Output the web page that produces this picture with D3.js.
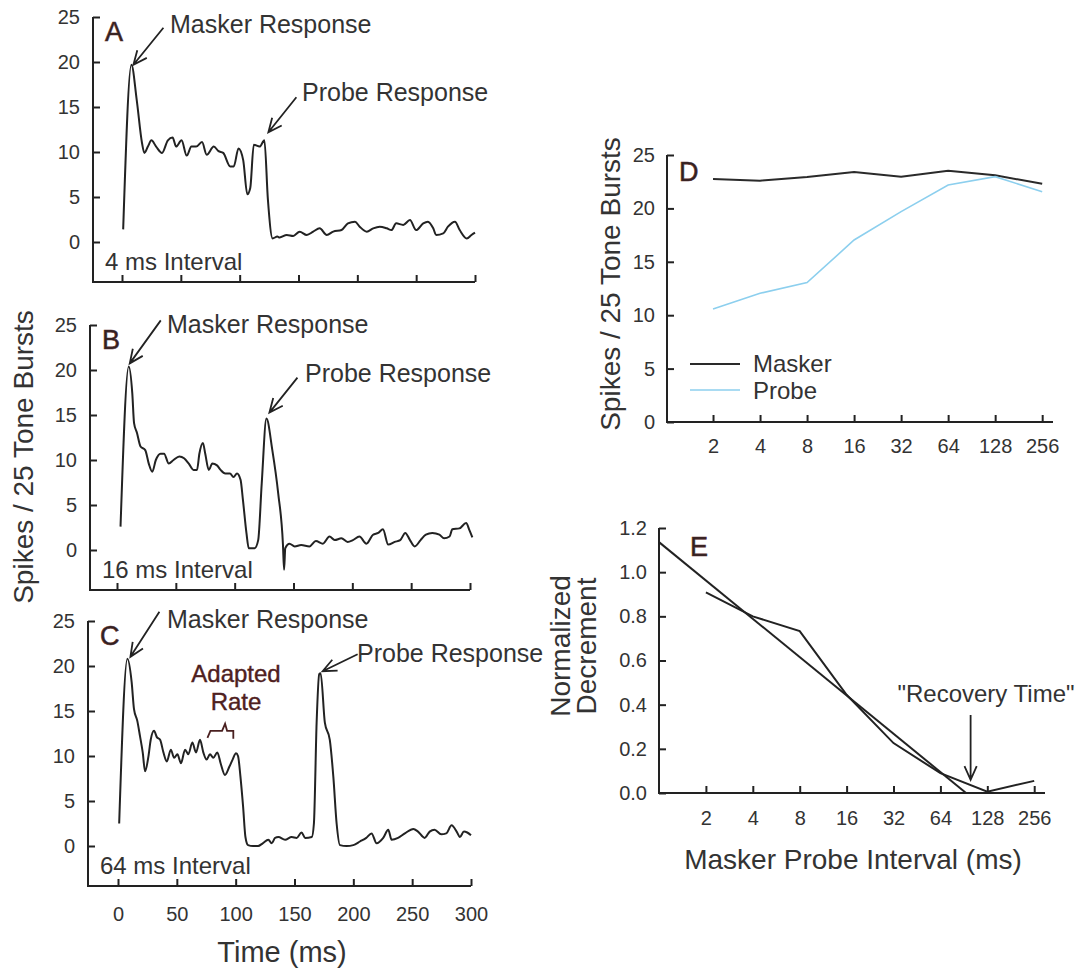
<!DOCTYPE html>
<html><head><meta charset="utf-8">
<script src="https://cdn.jsdelivr.net/npm/d3@7"></script>
<style>
body{margin:0;background:#fff}
text{font-family:"Liberation Sans",Arial,sans-serif;fill:#333}
</style>
</head><body>
<svg id="c" width="1083" height="968"></svg>
<script>
// ---------- data ----------
const timeTicks = [0, 50, 100, 150, 200, 250, 300];
const spikeTicks = [0, 5, 10, 15, 20, 25];
const intervalTicks = [2, 4, 8, 16, 32, 64, 128, 256];
const decrementTicks = [0, 0.2, 0.4, 0.6, 0.8, 1.0, 1.2];

const timeA = [1,8,12.5,17,19,22,25,29,34,39,43,46,50.6,55,59,63,68,72,78,82,86,92,95,99,103,106.5,109,112,117,121,124,128,132,134,140,145.5,151,157,162.5,168,174,179.5,186.6,192,198,202,208,213.5,219,225,229,233,239,244.7,250,256,260,264.5,267,273,277,283,287,293,297,300];
const spikesA = [1.4,19.7,15.8,11,9.9,10.6,11.3,10.6,9.9,11.3,11.6,10.6,11.3,9.6,10.6,10.6,11.1,9.7,10.6,10.1,9.9,8.4,8.4,10.4,9.1,5.3,6,10.8,10.6,11.3,4.7,0.4,0.6,0.5,0.78,0.67,1.15,0.78,1.15,1.52,0.78,1.15,1.33,2.07,2.26,1.7,1.15,1.52,1.7,1.52,1.33,2.07,1.9,2.44,1.33,2.07,2.26,1.52,0.78,0.96,1.7,2.26,1.33,0.4,0.78,1.04];

const timeB = [3,10,13,14.5,17,20,24,27,30,33,37,40,44,48,53,57,61,65,68,70,73,75,78,81,85,88,92,96,99,102,105,107,110,112,117,120,123,127,132,137,141,142,143,146.6,151,156.5,163.6,169,175,180.6,185,190.7,196,200.5,206,212,217.6,222,226,230.5,236,240.7,245,249,253,258,262.5,268,274,278,282.6,285,291,296.7,299.5,302];
const spikesB = [2.6,20.4,17.4,14.1,13,11.5,11.1,9.6,8.7,10,10.7,10.7,9.6,10,10.4,10.2,9.6,8.9,8.9,10.7,11.9,10.7,8.9,9.6,9.4,8.9,8.5,8.5,8.1,8.5,7.8,5.6,1.9,0.2,0.2,1.1,7.4,14.6,11.1,6.3,0.7,-2.2,0.2,0.7,0.4,0.56,0.4,1.0,0.7,1.5,1.1,1.3,0.9,1.1,1.5,0.7,1.7,1.9,2.3,0.6,0.9,1.1,1.9,1.1,0.4,1.1,1.7,1.9,1.7,1.3,1.5,2.3,2.4,3.0,2.2,1.4];

const timeC = [1,8,11.6,13.6,16.4,18.7,21,23,25.8,27.8,30.6,33,35.8,38.6,41.5,44.9,47.7,50.5,53.5,57,59.8,63.2,66.3,69.7,72.5,75.3,78.2,81,84.4,87.2,90.9,94.6,97.4,100.3,102,104,106.3,108.3,110.5,114.8,119,123,127.8,130.6,133.5,136.3,142,147.6,151.8,156,159,164.7,166.5,168.8,171,172.2,175.8,180,183,185.8,188.6,194.3,200,205.6,211,215.5,219.8,225.4,229.7,232.5,238,243.8,251,255,260.6,264.9,269,274.7,279,283.5,287.8,290.6,294,296.8,300];
const spikesC = [2.5,20.8,18.2,15.2,13.9,12.2,10.4,8.3,9.9,11.8,12.8,12.1,11.8,10.4,9.4,10.7,9.8,10.2,9.2,10.7,10.2,11.5,10.4,11.8,10.4,9.6,10.2,9.8,10.4,9.2,7.9,8.8,9.6,10.3,10,7.8,4.4,1.0,0.1,0,0,0.3,0.7,0.3,0.9,1.0,0.7,1.0,0.9,1.5,0.9,1.0,2.5,13.7,19.1,19.2,13.7,11.8,7.7,2.5,0.1,0,0.1,0.5,0.9,1.4,0.3,0.9,1.8,0.7,0.9,1.4,1.9,1.6,0.9,1.6,1.8,1.3,1.4,2.3,1.6,1.0,1.6,1.5,1.2];

const dIntervals = [2, 4, 8, 16, 32, 64, 128, 256];
const dMasker = [22.75, 22.6, 22.95, 23.4, 22.97, 23.53, 23.1, 22.3];
const dProbe = [10.58, 12.05, 13.05, 17.04, 19.7, 22.19, 22.97, 21.56];

const eIntervals = [2, 4, 8, 16, 32, 64, 128, 256];
const eDecrement = [0.908, 0.80, 0.733, 0.445, 0.226, 0.09, 0.006, 0.055];
const eFitX = [1, 93.5];
const eFitY = [1.136, 0];

// ---------- drawing ----------
const svg = d3.select("#c");
const INK = "#222";

function arrow(x1, y1, x2, y2, len = 15, ang = 0.42) {
  const a = Math.atan2(y2 - y1, x2 - x1);
  svg.append("path")
    .attr("d", `M${x1},${y1}L${x2},${y2}M${x2 - len * Math.cos(a - ang)},${y2 - len * Math.sin(a - ang)}L${x2},${y2}L${x2 - len * Math.cos(a + ang)},${y2 - len * Math.sin(a + ang)}`)
    .attr("fill", "none").attr("stroke", INK).attr("stroke-width", 1.8);
}
function label(x, y, str, size, opts = {}) {
  const t = svg.append("text").attr("x", x).attr("y", y).attr("font-size", size).text(str);
  if (opts.anchor) t.attr("text-anchor", opts.anchor);
  if (opts.fill) t.style("fill", opts.fill);
  if (opts.weight) t.attr("font-weight", opts.weight);
  return t;
}
function letter(x, y, str) {
  return label(x, y, str, 27).style("fill", "#2e2222")
    .attr("stroke", "#5a2a2a").attr("stroke-width", 0.6);
}
function styleAxis(g) {
  g.select(".domain").remove();
  g.selectAll(".tick line").attr("stroke", INK).attr("stroke-width", 2);
  g.selectAll(".tick text").attr("font-size", 20).style("fill", "#333")
    .attr("font-family", "'Liberation Sans',Arial,sans-serif");
}

// time panels
const panels = [
  {t: timeA, v: spikesA, left: 93, x0: 122, y0: 242, letter: "A", interval: "4 ms Interval", labels: false},
  {t: timeB, v: spikesB, left: 90, x0: 117, y0: 550, letter: "B", interval: "16 ms Interval", labels: false},
  {t: timeC, v: spikesC, left: 88, x0: 118, y0: 846, letter: "C", interval: "64 ms Interval", labels: true}
];
panels.forEach(p => {
  p.x = d3.scaleLinear().domain([0, 300]).range([p.x0, p.x0 + 353]);
  p.y = d3.scaleLinear().domain([0, 25]).range([p.y0, p.y0 - 225]);
  const bottom = p.y0 + 40;
  svg.append("path")
    .attr("d", `M${p.left},${p.y(25)}V${bottom}H${p.x(300)}`)
    .attr("fill", "none").attr("stroke", INK).attr("stroke-width", 2);
  const ya = svg.append("g").attr("transform", `translate(${p.left},0)`)
    .call(d3.axisLeft(p.y).tickValues(spikeTicks).tickSizeInner(-7).tickSizeOuter(0).tickPadding(13));
  styleAxis(ya);
  const xa = svg.append("g").attr("transform", `translate(0,${bottom})`)
    .call(d3.axisBottom(p.x).tickValues(timeTicks).tickSizeInner(-7).tickSizeOuter(0).tickPadding(21)
      .tickFormat(p.labels ? d3.format("d") : () => ""));
  styleAxis(xa);
  const line = d3.line().x((d, i) => p.x(p.t[i])).y(d => p.y(d)).curve(d3.curveMonotoneX);
  svg.append("path").datum(p.v).attr("d", line)
    .attr("fill", "none").attr("stroke", INK).attr("stroke-width", 2).attr("stroke-linejoin", "round");
  letter(p.left + 12, p.y0 - 201, p.letter);
  label(p.left + 12, p.y0 + 28, p.interval, 24);
});

// annotations A
{
  const p = panels[0];
  const tx = p.x(8) + 2, ty = p.y(19.7);
  arrow(tx + 30, ty - 37, tx, ty);
  label(170, 33, "Masker Response", 25);
  const px = p.x(121) + 4, py = p.y(11.3) - 8;
  arrow(px + 28, py - 35, px, py);
  label(302, 101, "Probe Response", 25);
}
// annotations B
{
  const p = panels[1];
  const tx = p.x(10) + 1, ty = p.y(20.4) - 3;
  arrow(tx + 31, ty - 43, tx, ty);
  label(167, 333, "Masker Response", 25);
  const px = p.x(127) + 3, py = p.y(14.6) - 6;
  arrow(px + 28, py - 35, px, py);
  label(305, 382, "Probe Response", 25);
}
// annotations C
{
  const p = panels[2];
  const tx = p.x(8) + 3, ty = p.y(20.8) - 2;
  arrow(tx + 29, ty - 45, tx, ty);
  label(167, 628, "Masker Response", 25);
  const px = p.x(172.2) + 2, py = p.y(19.2) - 2;
  arrow(px + 35, py - 17, px, py);
  label(357, 662, "Probe Response", 25);
  label(236, 682, "Adapted", 24, {anchor: "middle", fill: "#4e2020"}).attr("stroke", "#4e2020").attr("stroke-width", 0.4);
  label(236, 710, "Rate", 24, {anchor: "middle", fill: "#4e2020"}).attr("stroke", "#4e2020").attr("stroke-width", 0.4);
  const bx1 = p.x(76), bx2 = p.x(98), bm = p.x(91), by = p.y(12.8);
  svg.append("path")
    .attr("d", `M${bx1},${by + 7}L${bx1 + 3},${by}H${bm - 3}L${bm},${by - 7}L${bm + 2},${by}H${bx2}L${bx2},${by + 8}`)
    .attr("fill", "none").attr("stroke", "#4a2020").attr("stroke-width", 1.8);
}
// shared labels
label(0, 0, "Spikes / 25 Tone Bursts", 28, {anchor: "middle"})
  .attr("transform", "translate(33,457) rotate(-90)").attr("x", null).attr("y", null);
label(282, 962, "Time (ms)", 29, {anchor: "middle"});

// ---------- Panel D ----------
{
  const left = 667, bottom = 422, right = 1053;
  const x = d3.scaleLog().base(2).domain([1, Math.pow(2, 8.23)]).range([left - 1, right]);
  const y = d3.scaleLinear().domain([0, 25]).range([bottom, 155]);
  svg.append("path").attr("d", `M${left},${y(25)}V${bottom}H${right}`)
    .attr("fill", "none").attr("stroke", INK).attr("stroke-width", 2);
  const ya = svg.append("g").attr("transform", `translate(${left},0)`)
    .call(d3.axisLeft(y).tickValues(spikeTicks).tickSizeInner(-7).tickSizeOuter(0).tickPadding(12));
  styleAxis(ya);
  const xa = svg.append("g").attr("transform", `translate(0,${bottom})`)
    .call(d3.axisBottom(x).tickValues(intervalTicks).tickSizeInner(-7).tickSizeOuter(0).tickPadding(17).tickFormat(d3.format("d")));
  styleAxis(xa);
  const line = d3.line().x((d, i) => x(dIntervals[i])).y(d => y(d));
  svg.append("path").datum(dMasker).attr("d", line).attr("fill", "none").attr("stroke", "#2a2a2a").attr("stroke-width", 2);
  svg.append("path").datum(dProbe).attr("d", line).attr("fill", "none").attr("stroke", "#8ccfee").attr("stroke-width", 1.6);
  letter(679, 181, "D");
  svg.append("line").attr("x1", 690).attr("x2", 740).attr("y1", 364).attr("y2", 364).attr("stroke", "#2a2a2a").attr("stroke-width", 2);
  label(753, 372, "Masker", 24);
  svg.append("line").attr("x1", 690).attr("x2", 740).attr("y1", 390).attr("y2", 390).attr("stroke", "#8ccfee").attr("stroke-width", 1.6);
  label(753, 399, "Probe", 24);
  label(0, 0, "Spikes / 25 Tone Bursts", 28, {anchor: "middle"})
    .attr("transform", "translate(620,284) rotate(-90)").attr("x", null).attr("y", null);
}

// ---------- Panel E ----------
{
  const left = 659, bottom = 793, right = 1045;
  const x = d3.scaleLog().base(2).domain([1, Math.pow(2, 8.23)]).range([left, right]);
  const y = d3.scaleLinear().domain([0, 1.2]).range([bottom, 528]);
  svg.append("path").attr("d", `M${left},${y(1.2)}V${bottom}H${right}`)
    .attr("fill", "none").attr("stroke", INK).attr("stroke-width", 2);
  const ya = svg.append("g").attr("transform", `translate(${left},0)`)
    .call(d3.axisLeft(y).tickValues(decrementTicks).tickSizeInner(-7).tickSizeOuter(0).tickPadding(12).tickFormat(d3.format(".1f")));
  styleAxis(ya);
  const xa = svg.append("g").attr("transform", `translate(0,${bottom})`)
    .call(d3.axisBottom(x).tickValues(intervalTicks).tickSizeInner(-7).tickSizeOuter(0).tickPadding(18).tickFormat(d3.format("d")));
  styleAxis(xa);
  const line = d3.line().x((d, i) => x(eIntervals[i])).y(d => y(d));
  svg.append("path").datum(eDecrement).attr("d", line).attr("fill", "none").attr("stroke", INK).attr("stroke-width", 2);
  const fit = d3.line().x((d, i) => x(eFitX[i])).y(d => y(d));
  svg.append("path").datum(eFitY).attr("d", fit).attr("fill", "none").attr("stroke", INK).attr("stroke-width", 2);
  letter(690, 556, "E");
  label(986, 702, "\"Recovery Time\"", 24, {anchor: "middle"});
  arrow(x(100), 715, x(100), y(0.06));
  label(0, 0, "Normalized", 28, {anchor: "middle"})
    .attr("transform", "translate(570,646) rotate(-90)").attr("x", null).attr("y", null);
  label(0, 0, "Decrement", 28, {anchor: "middle"})
    .attr("transform", "translate(596,646) rotate(-90)").attr("x", null).attr("y", null);
  label(853, 869, "Masker Probe Interval (ms)", 28, {anchor: "middle"});
}
</script>
</body></html>
